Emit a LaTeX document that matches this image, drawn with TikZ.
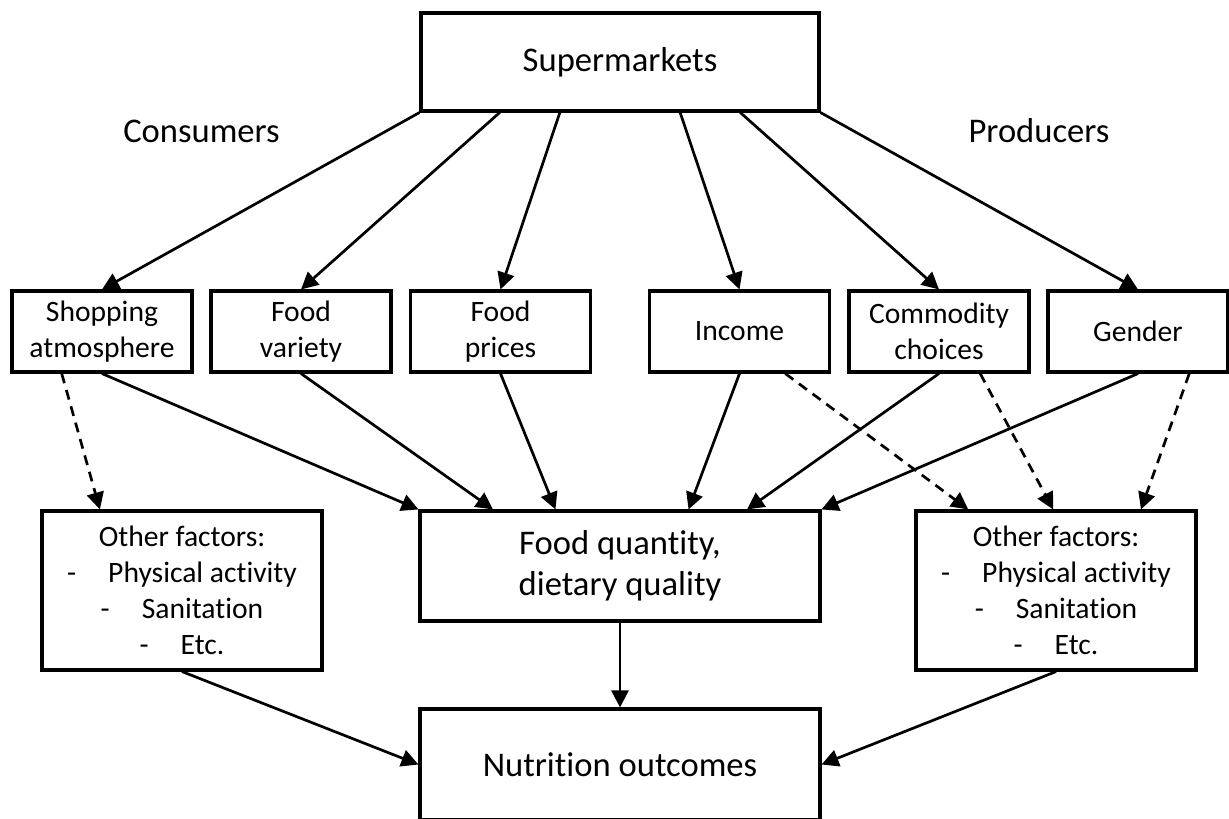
\documentclass[tikz,border=0pt]{standalone}
\usepackage{fontspec}
\setmainfont{Carlito}[Ligatures=NoCommon]
\usetikzlibrary{arrows.meta,calc}
\newcommand\myBig{\fontsize{34.6}{41}\selectfont}
\newcommand\mySmall{\fontsize{29.6}{36}\selectfont}
\tikzset{
  box/.style={draw, line width=3.1pt, inner sep=0pt, align=center, font=\mySmall},
  topbox/.style={box, minimum width=180pt, minimum height=81pt},
  ofbox/.style={box, minimum width=280pt, minimum height=159pt},
  arr/.style={-{Triangle[length=17pt,width=17pt]}, line width=2.7pt},
  dsh/.style={arr, dash pattern=on 10pt off 7pt},
  lbl/.style={font=\myBig, inner sep=0pt}
}
\begin{document}
\begin{tikzpicture}[x=1pt,y=-1pt]
\useasboundingbox (0,0) rectangle (1229,819);
% boxes
\node[box, font=\myBig, minimum width=398pt, minimum height=98pt] (sm) at (620,62) {Supermarkets};
\node[topbox] (shop) at (102,331.5) {Shopping\\atmosphere};
\node[topbox] (var) at (301,331.5) {Food\\variety};
\node[topbox] (price) at (500.5,331.5) {Food\\prices};
\node[topbox] (inc) at (739.5,331.5) {Income};
\node[topbox] (com) at (939,331.5) {Commodity\\choices};
\node[topbox] (gen) at (1138,331.5) {Gender};
\node[ofbox] (ofl) at (182,590.5) {Other factors:\\-\hspace{32pt}Physical activity\\-\hspace{32pt}Sanitation\\-\hspace{32pt}Etc.};
\node[ofbox] (ofr) at (1056,590.5) {Other factors:\\-\hspace{32pt}Physical activity\\-\hspace{32pt}Sanitation\\-\hspace{32pt}Etc.};
\node[box, font=\myBig, minimum width=400pt, minimum height=110pt] (fq) at (620,566) {Food quantity,\\dietary quality};
\node[box, font=\myBig, minimum width=400pt, minimum height=111pt] (nut) at (620,764.5) {Nutrition outcomes};
% labels
\node[lbl, anchor=base] (cons) at (201.5,142.7) {Consumers};
\node[lbl, anchor=base] (prod) at (1039,142.7) {Producers};
% supermarkets to top row
\draw[arr] (sm.south west) -- (shop.north);
\draw[arr] ($(sm.south west)!0.2!(sm.south east)$) -- (var.north);
\draw[arr] ($(sm.south west)!0.35!(sm.south east)$) -- (price.north);
\draw[arr] ($(sm.south west)!0.65!(sm.south east)$) -- (inc.north);
\draw[arr] ($(sm.south west)!0.8!(sm.south east)$) -- (com.north);
\draw[arr] (sm.south east) -- (gen.north);
% dashed to other factors
\draw[dsh] ($(shop.south west)!0.28!(shop.south east)$) -- ($(ofl.north west)!0.21!(ofl.north east)$);
\draw[dsh] ($(inc.south west)!0.75!(inc.south east)$) -- ($(ofr.north west)!0.19!(ofr.north east)$);
\draw[dsh] ($(com.south west)!0.725!(com.south east)$) -- ($(ofr.north west)!0.49!(ofr.north east)$);
\draw[dsh] ($(gen.south west)!0.78!(gen.south east)$) -- ($(ofr.north west)!0.8!(ofr.north east)$);
% top row to food quantity
\draw[arr] (shop.south) -- (fq.north west);
\draw[arr] (var.south) -- ($(fq.north west)!0.185!(fq.north east)$);
\draw[arr] (price.south) -- ($(fq.north west)!0.34!(fq.north east)$);
\draw[arr] (inc.south) -- ($(fq.north west)!0.67!(fq.north east)$);
\draw[arr] (com.south) -- ($(fq.north west)!0.815!(fq.north east)$);
\draw[arr] (gen.south) -- (fq.north east);
% to nutrition
\draw[arr] (fq.south) -- (nut.north);
\draw[arr] (ofl.south) -- (nut.west);
\draw[arr] (ofr.south) -- (nut.east);
\end{tikzpicture}
\end{document}
